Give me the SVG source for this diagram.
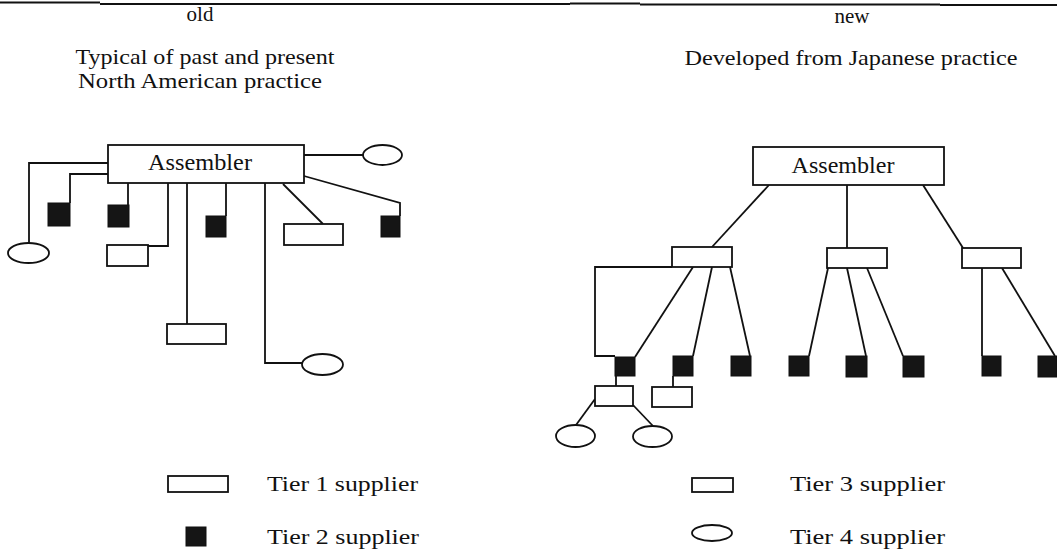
<svg xmlns="http://www.w3.org/2000/svg" width="1057" height="552" viewBox="0 0 1057 552">
<style>
.t{font-family:"Liberation Serif","Times New Roman",serif;font-size:21px;fill:#111}
.a{font-family:"Liberation Serif","Times New Roman",serif;font-size:23px;fill:#111}
.box{fill:#fff;stroke:#111;stroke-width:1.8}
.sq{fill:#151515;stroke:#111;stroke-width:1}
.ln{fill:none;stroke:#111;stroke-width:1.8}
</style>
<rect width="1057" height="552" fill="#fff"/>
<g id="rule">
<path class="ln" d="M0,2.5H100" stroke-width="1.5"/>
<path class="ln" d="M100,4H570" stroke-width="2"/>
<path class="ln" d="M570,3.5H640" stroke-width="1"/>
<path class="ln" d="M640,4.5H940" stroke-width="1.6"/>
<path class="ln" d="M940,5H1057" stroke-width="2.5"/>
</g>
<g id="headings">
<text class="t" x="200" y="21" text-anchor="middle">old</text>
<text class="t" x="852" y="23" text-anchor="middle">new</text>
<text class="t" x="205" y="64" text-anchor="middle" textLength="259" lengthAdjust="spacingAndGlyphs">Typical of past and present</text>
<text class="t" x="200" y="88" text-anchor="middle" textLength="244" lengthAdjust="spacingAndGlyphs">North American practice</text>
<text class="t" x="851" y="65" text-anchor="middle" textLength="333" lengthAdjust="spacingAndGlyphs">Developed from Japanese practice</text>
</g>
<g id="connectors">
<path class="ln" d="M108,163H29V243"/>
<path class="ln" d="M108,174H70V203"/>
<path class="ln" d="M128,183V205"/>
<path class="ln" d="M168,183V246H148"/>
<path class="ln" d="M187,183V324"/>
<path class="ln" d="M226,183V216"/>
<path class="ln" d="M265,183V363H302"/>
<path class="ln" d="M283,184L323,224"/>
<path class="ln" d="M304,155H363"/>
<path class="ln" d="M304,176L400,203V216"/>
<path class="ln" d="M769,185L712,247"/>
<path class="ln" d="M847,185V248"/>
<path class="ln" d="M923,185L963,248"/>
<path class="ln" d="M672,267H595V356H615"/>
<path class="ln" d="M693,267L635,357"/>
<path class="ln" d="M712,267L693,356"/>
<path class="ln" d="M730,267L750,356"/>
<path class="ln" d="M828,268L809,356"/>
<path class="ln" d="M847,268L866,356"/>
<path class="ln" d="M867,268L903,356"/>
<path class="ln" d="M982,268V356"/>
<path class="ln" d="M1002,268L1055,356"/>
<path class="ln" d="M616,376V386"/>
<path class="ln" d="M673,376V387"/>
<path class="ln" d="M595,399L576,425"/>
<path class="ln" d="M633,405L653,426"/>
</g>
<g id="old-assembler"><rect class="box" x="108" y="145" width="196" height="38"/><text class="a" x="200" y="170" text-anchor="middle" textLength="104" lengthAdjust="spacingAndGlyphs">Assembler</text></g>
<g id="old-t4a"><ellipse class="box" cx="28.5" cy="253" rx="20.5" ry="10"/></g>
<g id="old-t2a"><rect class="sq" x="48" y="203" width="22" height="23"/></g>
<g id="old-t2b"><rect class="sq" x="108" y="205" width="21" height="22"/></g>
<g id="old-t1a"><rect class="box" x="107" y="245" width="41" height="21"/></g>
<g id="old-t1b"><rect class="box" x="167" y="324" width="59" height="20"/></g>
<g id="old-t2c"><rect class="sq" x="206" y="216" width="20" height="21"/></g>
<g id="old-t4b"><ellipse class="box" cx="322.5" cy="364.5" rx="20.5" ry="10.5"/></g>
<g id="old-t1c"><rect class="box" x="284" y="224" width="59" height="21"/></g>
<g id="old-t4c"><ellipse class="box" cx="382.5" cy="155" rx="19.5" ry="10"/></g>
<g id="old-t2d"><rect class="sq" x="381" y="216" width="19" height="21"/></g>
<g id="new-assembler"><rect class="box" x="753" y="147" width="191" height="38"/><text class="a" x="843" y="173" text-anchor="middle" textLength="103" lengthAdjust="spacingAndGlyphs">Assembler</text></g>
<g id="new-t1a"><rect class="box" x="672" y="247" width="60" height="20"/></g>
<g id="new-t1b"><rect class="box" x="827" y="248" width="60" height="20"/></g>
<g id="new-t1c"><rect class="box" x="962" y="248" width="59" height="20"/></g>
<g id="new-t2a"><rect class="sq" x="615" y="357" width="20" height="19"/></g>
<g id="new-t2b"><rect class="sq" x="673" y="356" width="20" height="20"/></g>
<g id="new-t2c"><rect class="sq" x="731" y="356" width="20" height="20"/></g>
<g id="new-t2d"><rect class="sq" x="789" y="356" width="20" height="20"/></g>
<g id="new-t2e"><rect class="sq" x="846" y="356" width="21" height="21"/></g>
<g id="new-t2f"><rect class="sq" x="903" y="356" width="21" height="21"/></g>
<g id="new-t2g"><rect class="sq" x="982" y="356" width="19" height="20"/></g>
<g id="new-t2h"><rect class="sq" x="1038" y="356" width="19" height="21"/></g>
<g id="new-t3a"><rect class="box" x="595" y="386" width="38" height="20"/></g>
<g id="new-t3b"><rect class="box" x="652" y="387" width="40" height="20"/></g>
<g id="new-t4a"><ellipse class="box" cx="575.5" cy="436" rx="19.5" ry="11"/></g>
<g id="new-t4b"><ellipse class="box" cx="652.5" cy="436.5" rx="19.5" ry="10.5"/></g>
<g id="legend">
<rect class="box" x="168" y="476" width="60" height="16"/>
<text class="t" x="267" y="491" textLength="151" lengthAdjust="spacingAndGlyphs">Tier 1 supplier</text>
<rect class="sq" x="186" y="527" width="20" height="19"/>
<text class="t" x="267" y="544" textLength="152" lengthAdjust="spacingAndGlyphs">Tier 2 supplier</text>
<rect class="box" x="692" y="478" width="41" height="14"/>
<text class="t" x="790" y="491" textLength="155" lengthAdjust="spacingAndGlyphs">Tier 3 supplier</text>
<ellipse class="box" cx="712" cy="533" rx="20" ry="8"/>
<text class="t" x="790" y="544" textLength="155" lengthAdjust="spacingAndGlyphs">Tier 4 supplier</text>
</g>
</svg>
